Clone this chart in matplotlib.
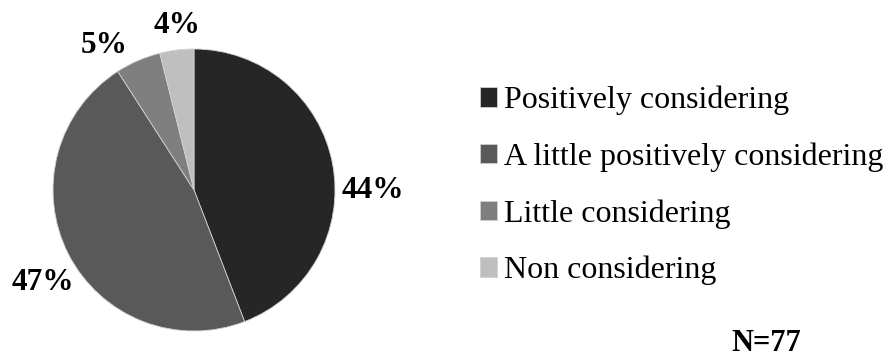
import matplotlib.pyplot as plt

plt.rcParams['font.family'] = ['Liberation Serif', 'DejaVu Serif']

# Survey responses (N=77)
categories = ['Positively considering', 'A little positively considering',
              'Little considering', 'Non considering']
counts = [34, 36, 4, 3]
colors = ['#262626', '#595959', '#7f7f7f', '#bfbfbf']

# label anchor points in pie-radius units
label_pos = [(1.27, -0.005), (-1.07, -0.655), (-0.64, 1.025), (-0.12, 1.165)]

W, H = 887, 359
fig = plt.figure(figsize=(W / 100, H / 100), dpi=100)

cx, cy, r = 194, 190, 141
ax = fig.add_axes([(cx - r) / W, (H - cy - r) / H, 2 * r / W, 2 * r / H])
wedges, _ = ax.pie(counts, colors=colors, startangle=90, counterclock=False,
                   wedgeprops=dict(edgecolor='#d0d0d0', linewidth=0.6))
ax.set_xlim(-1, 1)
ax.set_ylim(-1, 1)
ax.set_aspect('equal')

total = sum(counts)
for n, (x, y) in zip(counts, label_pos):
    ax.text(x, y, f'{round(100 * n / total)}%', ha='center', va='center',
            fontsize=22.5, fontweight='bold')

fig.legend(wedges, categories, loc='upper left',
           bbox_to_anchor=(467 / W, 1 - 73 / H), frameon=False,
           fontsize=23, handlelength=0.55, handleheight=0.55,
           handletextpad=0.2, labelspacing=0.85, borderaxespad=0)

fig.text(766 / W, 1 / H, 'N=77', ha='center', va='bottom',
         fontsize=22, fontweight='bold')

fig.savefig('out.png', dpi=100)
